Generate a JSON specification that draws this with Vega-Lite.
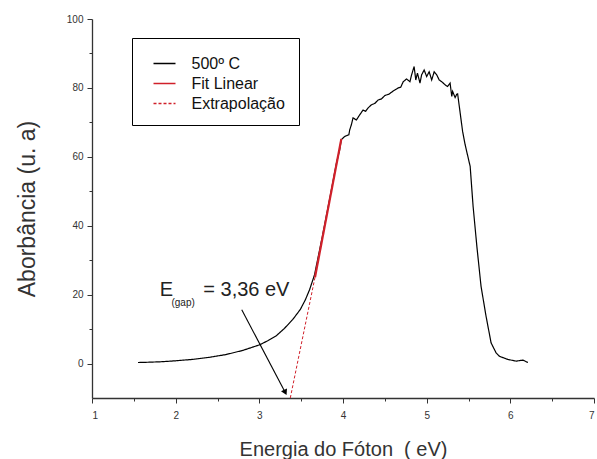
{
  "$schema": "https://vega.github.io/schema/vega-lite/v6.json",
  "width": 502,
  "height": 379,
  "autosize": {"type": "none"},
  "padding": {"left": 92, "top": 19, "right": 3, "bottom": 61},
  "background": "white",
  "config": {
    "font": "Liberation Sans",
    "view": {"stroke": null},
    "axis": {"grid": false, "domainColor": "#333", "tickColor": "#333", "domainWidth": 1.3, "tickWidth": 1, "labelColor": "#333", "titleColor": "#333", "labelFont": "Liberation Sans", "titleFont": "Liberation Sans", "titleFontWeight": "normal"}
  },
  "resolve": {"axis": {"x": "independent", "y": "independent"}},
  "datasets": {
    "curves": [
      {"series": "500º C", "x": 1.55, "y": 0.3},
      {"series": "500º C", "x": 1.7, "y": 0.4},
      {"series": "500º C", "x": 1.85, "y": 0.55},
      {"series": "500º C", "x": 2.0, "y": 0.8},
      {"series": "500º C", "x": 2.2, "y": 1.2},
      {"series": "500º C", "x": 2.4, "y": 1.8},
      {"series": "500º C", "x": 2.6, "y": 2.6},
      {"series": "500º C", "x": 2.8, "y": 3.8},
      {"series": "500º C", "x": 2.9, "y": 4.6},
      {"series": "500º C", "x": 3.0, "y": 5.4},
      {"series": "500º C", "x": 3.1, "y": 6.6},
      {"series": "500º C", "x": 3.2, "y": 8.0},
      {"series": "500º C", "x": 3.3, "y": 10.2},
      {"series": "500º C", "x": 3.4, "y": 12.8},
      {"series": "500º C", "x": 3.49, "y": 15.7},
      {"series": "500º C", "x": 3.55, "y": 18.5},
      {"series": "500º C", "x": 3.6, "y": 21.4},
      {"series": "500º C", "x": 3.64, "y": 24.3},
      {"series": "500º C", "x": 3.66, "y": 25.8},
      {"series": "500º C", "x": 3.75, "y": 36.5},
      {"series": "500º C", "x": 3.85, "y": 49},
      {"series": "500º C", "x": 3.92, "y": 58},
      {"series": "500º C", "x": 3.96, "y": 62},
      {"series": "500º C", "x": 3.98, "y": 65},
      {"series": "500º C", "x": 4.02, "y": 65.9},
      {"series": "500º C", "x": 4.07, "y": 66.4},
      {"series": "500º C", "x": 4.08, "y": 67.8},
      {"series": "500º C", "x": 4.1, "y": 69.3},
      {"series": "500º C", "x": 4.12, "y": 71.3},
      {"series": "500º C", "x": 4.16, "y": 70.7},
      {"series": "500º C", "x": 4.2, "y": 72.2},
      {"series": "500º C", "x": 4.24, "y": 73.6},
      {"series": "500º C", "x": 4.27, "y": 73.2},
      {"series": "500º C", "x": 4.3, "y": 74.2},
      {"series": "500º C", "x": 4.34, "y": 75.1},
      {"series": "500º C", "x": 4.38, "y": 75.5},
      {"series": "500º C", "x": 4.42, "y": 76.5},
      {"series": "500º C", "x": 4.46, "y": 76.8},
      {"series": "500º C", "x": 4.5, "y": 77.8},
      {"series": "500º C", "x": 4.55, "y": 78.2},
      {"series": "500º C", "x": 4.6, "y": 79.1},
      {"series": "500º C", "x": 4.66, "y": 80},
      {"series": "500º C", "x": 4.69, "y": 80.2},
      {"series": "500º C", "x": 4.72, "y": 81.8},
      {"series": "500º C", "x": 4.76, "y": 82.6},
      {"series": "500º C", "x": 4.8, "y": 81.8},
      {"series": "500º C", "x": 4.82, "y": 83.8},
      {"series": "500º C", "x": 4.85, "y": 86.2},
      {"series": "500º C", "x": 4.87, "y": 82.3},
      {"series": "500º C", "x": 4.89, "y": 84.3},
      {"series": "500º C", "x": 4.92, "y": 81.4},
      {"series": "500º C", "x": 4.94, "y": 83.8},
      {"series": "500º C", "x": 4.97, "y": 85.2},
      {"series": "500º C", "x": 5.0, "y": 83.3},
      {"series": "500º C", "x": 5.03, "y": 84.7},
      {"series": "500º C", "x": 5.06, "y": 82.3},
      {"series": "500º C", "x": 5.09, "y": 84.7},
      {"series": "500º C", "x": 5.12, "y": 83.8},
      {"series": "500º C", "x": 5.15, "y": 82.3},
      {"series": "500º C", "x": 5.18, "y": 81.8},
      {"series": "500º C", "x": 5.22, "y": 80.9},
      {"series": "500º C", "x": 5.25, "y": 80.4},
      {"series": "500º C", "x": 5.28, "y": 81.4},
      {"series": "500º C", "x": 5.3, "y": 77.5},
      {"series": "500º C", "x": 5.31, "y": 79},
      {"series": "500º C", "x": 5.34, "y": 77.2},
      {"series": "500º C", "x": 5.36, "y": 78.2},
      {"series": "500º C", "x": 5.37, "y": 78.3},
      {"series": "500º C", "x": 5.4, "y": 72.8},
      {"series": "500º C", "x": 5.43, "y": 67.3},
      {"series": "500º C", "x": 5.46, "y": 63.5},
      {"series": "500º C", "x": 5.52, "y": 57.2},
      {"series": "500º C", "x": 5.555, "y": 45.6},
      {"series": "500º C", "x": 5.6, "y": 34},
      {"series": "500º C", "x": 5.65, "y": 22.4},
      {"series": "500º C", "x": 5.71, "y": 13.7},
      {"series": "500º C", "x": 5.77, "y": 6},
      {"series": "500º C", "x": 5.83, "y": 3.1},
      {"series": "500º C", "x": 5.87, "y": 2.1},
      {"series": "500º C", "x": 5.97, "y": 1.2},
      {"series": "500º C", "x": 6.07, "y": 0.7},
      {"series": "500º C", "x": 6.15, "y": 1.0},
      {"series": "500º C", "x": 6.21, "y": 0.3},
      {"series": "Extrapolação", "x": 3.37, "y": -10},
      {"series": "Extrapolação", "x": 3.665, "y": 25},
      {"series": "Fit Linear", "x": 3.665, "y": 25},
      {"series": "Fit Linear", "x": 3.98, "y": 65.2}
    ],
    "arrow": [
      {"x": 2.79, "y": 15.6, "x2": 3.31, "y2": -8.4}
    ],
    "labels": [
      {"x": 1.81, "y": 19.5, "text": "E", "kind": "big"},
      {"x": 1.95, "y": 16.8, "text": "(gap)", "kind": "sub"},
      {"x": 2.33, "y": 19.5, "text": "= 3,36 eV", "kind": "big"}
    ]
  },
  "layer": [
    {
      "data": {"name": "curves"},
      "transform": [{"filter": "datum.series === '500º C'"}],
      "mark": {"type": "line", "strokeWidth": 1.2, "interpolate": "linear"},
      "encoding": {
        "x": {"field": "x", "type": "quantitative", "scale": {"domain": [1, 7], "nice": false, "zero": false},
          "axis": {"orient": "bottom", "values": [1, 2, 3, 4, 5, 6, 7], "title": "Energia do Fóton \u00a0( eV)", "titleFontSize": 20, "titlePadding": 19, "labelFontSize": 10, "tickSize": 5, "labelPadding": 7, "format": "d"}},
        "y": {"field": "y", "type": "quantitative", "scale": {"domain": [-10, 100], "nice": false, "zero": false},
          "axis": {"orient": "left", "values": [0, 20, 40, 60, 80, 100], "title": "Aborbância (u. a)", "titleFontSize": 23, "titlePadding": 27, "labelFontSize": 10, "tickSize": 5, "labelPadding": 4, "format": "d"}},
        "color": {"field": "series", "type": "nominal", "scale": {"domain": ["500º C", "Fit Linear", "Extrapolação"], "range": ["#000000", "#d0202a", "#d0202a"]},
          "legend": {"title": null, "orient": "none", "legendX": 40, "legendY": 19, "symbolType": "stroke", "symbolSize": 484, "symbolStrokeWidth": 1.3, "labelFontSize": 16, "labelColor": "#111", "labelOffset": 15, "rowPadding": -1.5, "padding": 13.5, "symbolOffset": 7, "strokeColor": "#000", "fillColor": "white", "labelFont": "Liberation Sans"}},
        "strokeDash": {"field": "series", "type": "nominal", "scale": {"domain": ["500º C", "Fit Linear", "Extrapolação"], "range": [[1, 0], [1, 0], [3, 2]]},
          "legend": {"title": null, "orient": "none", "legendX": 40, "legendY": 19, "symbolType": "stroke", "symbolSize": 484, "symbolStrokeWidth": 1.3, "labelFontSize": 16, "labelColor": "#111", "labelOffset": 15, "rowPadding": -1.5, "padding": 13.5, "symbolOffset": 7, "strokeColor": "#000", "fillColor": "white", "labelFont": "Liberation Sans"}}
      }
    },
    {
      "data": {"name": "curves"},
      "transform": [{"filter": "datum.series === 'Extrapolação'"}],
      "mark": {"type": "line", "strokeWidth": 1},
      "encoding": {
        "x": {"field": "x", "type": "quantitative", "axis": null},
        "y": {"field": "y", "type": "quantitative", "axis": null},
        "color": {"field": "series", "type": "nominal"},
        "strokeDash": {"field": "series", "type": "nominal"}
      }
    },
    {
      "data": {"name": "curves"},
      "transform": [{"filter": "datum.series === 'Fit Linear'"}],
      "mark": {"type": "line", "strokeWidth": 2.2},
      "encoding": {
        "x": {"field": "x", "type": "quantitative", "axis": null},
        "y": {"field": "y", "type": "quantitative", "axis": null},
        "color": {"field": "series", "type": "nominal"},
        "strokeDash": {"field": "series", "type": "nominal"}
      }
    },
    {
      "data": {"name": "arrow"},
      "mark": {"type": "rule", "color": "#000", "strokeWidth": 1.1},
      "encoding": {
        "x": {"field": "x", "type": "quantitative",
          "axis": {"orient": "bottom", "values": [1.5, 2.5, 3.5, 4.5, 5.5, 6.5], "labels": false, "domain": false, "tickSize": 3, "title": null}},
        "y": {"field": "y", "type": "quantitative",
          "axis": {"orient": "left", "values": [10, 30, 50, 70, 90], "labels": false, "domain": false, "tickSize": 3, "title": null}},
        "x2": {"field": "x2"},
        "y2": {"field": "y2"}
      }
    },
    {
      "data": {"name": "arrow"},
      "mark": {"type": "point", "shape": "triangle-up", "filled": true, "fill": "#000", "stroke": null, "size": 45, "angle": 154, "opacity": 1},
      "encoding": {
        "x": {"field": "x2", "type": "quantitative", "axis": null},
        "y": {"field": "y2", "type": "quantitative", "axis": null}
      }
    },
    {
      "data": {"name": "labels"},
      "transform": [{"filter": "datum.kind === 'big'"}],
      "mark": {"type": "text", "align": "left", "baseline": "alphabetic", "fontSize": 20, "font": "Liberation Sans", "color": "#222"},
      "encoding": {
        "x": {"field": "x", "type": "quantitative", "axis": null},
        "y": {"field": "y", "type": "quantitative", "axis": null},
        "text": {"field": "text"}
      }
    },
    {
      "data": {"name": "labels"},
      "transform": [{"filter": "datum.kind === 'sub'"}],
      "mark": {"type": "text", "align": "left", "baseline": "alphabetic", "fontSize": 10, "font": "Liberation Sans", "color": "#222"},
      "encoding": {
        "x": {"field": "x", "type": "quantitative", "axis": null},
        "y": {"field": "y", "type": "quantitative", "axis": null},
        "text": {"field": "text"}
      }
    }
  ]
}
